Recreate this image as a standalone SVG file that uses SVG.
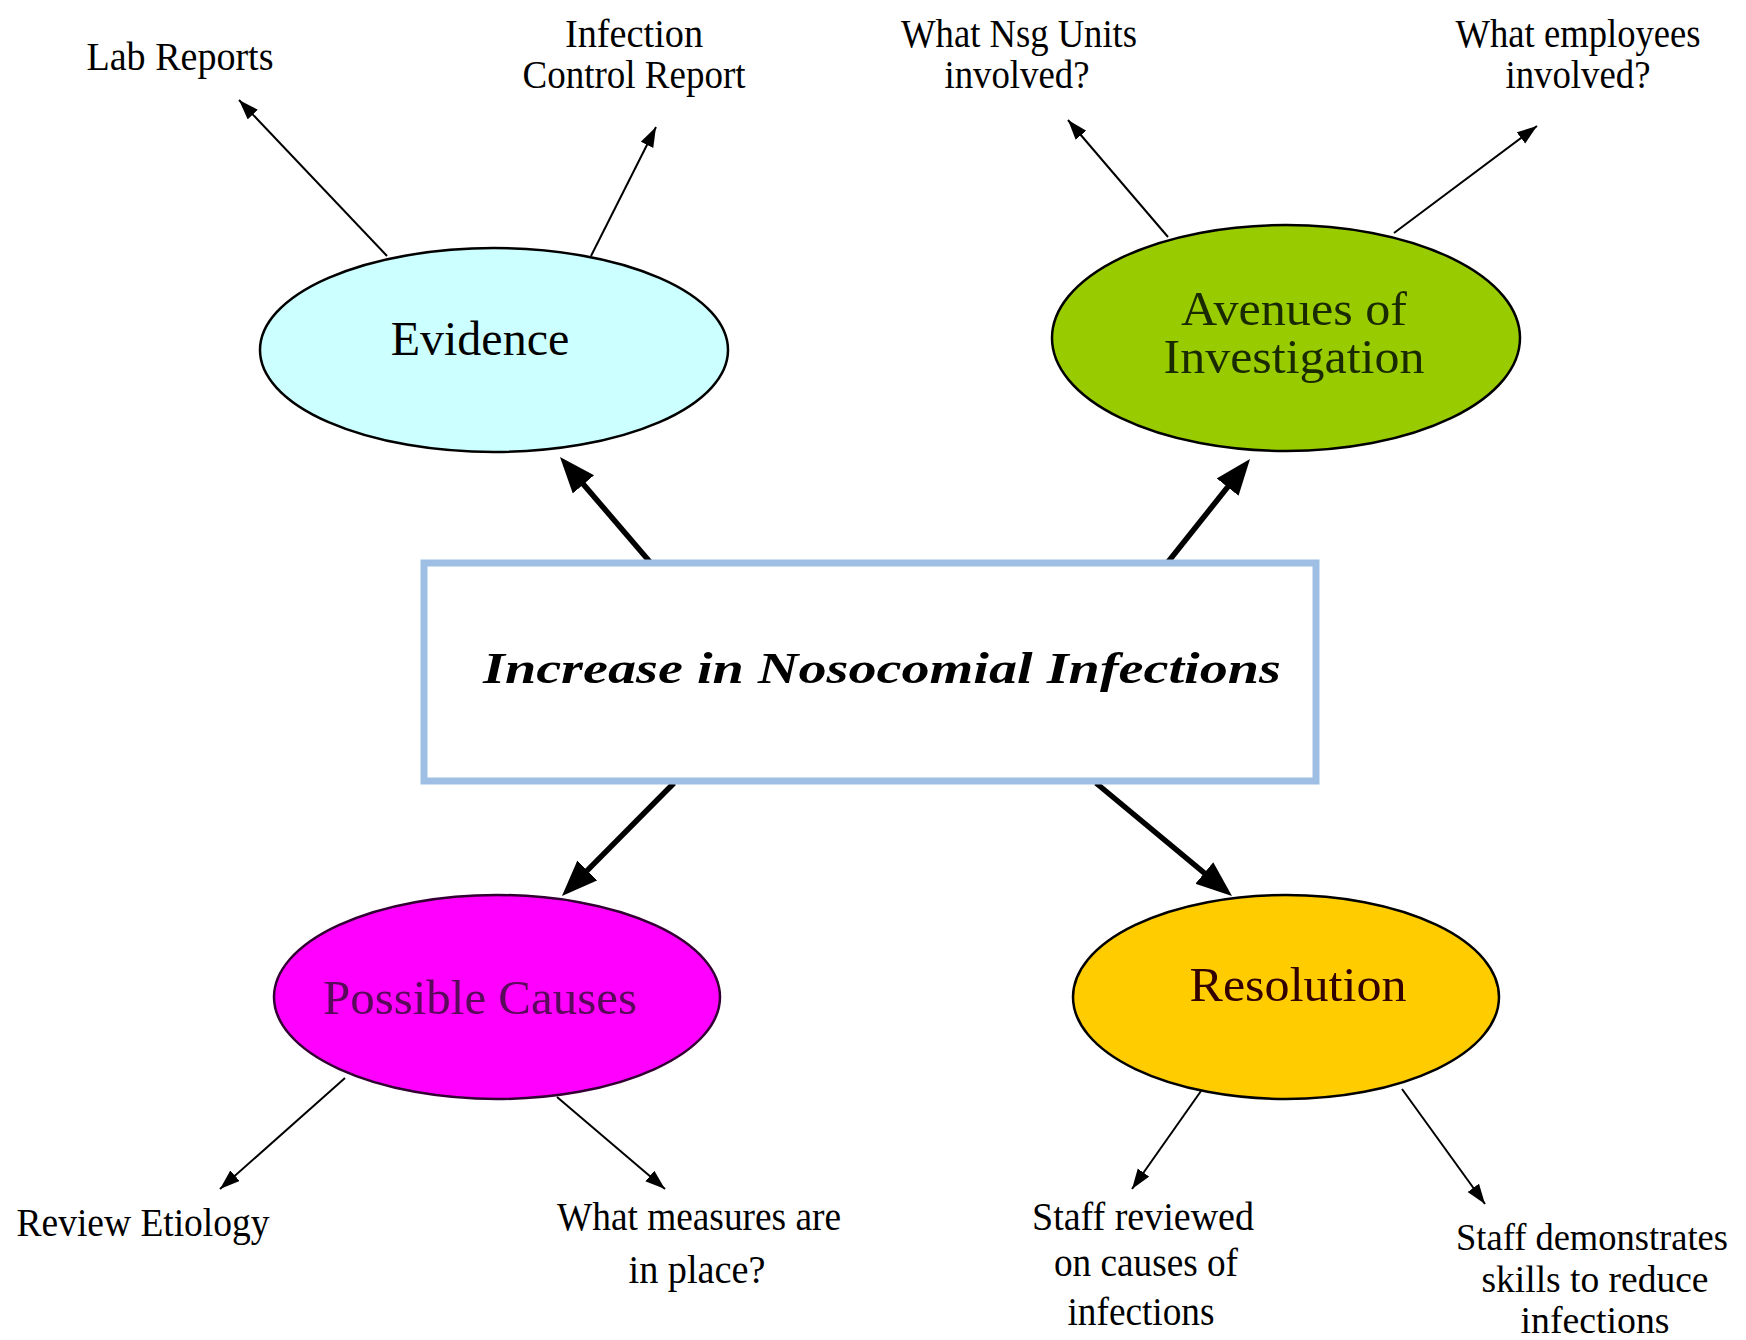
<svg xmlns="http://www.w3.org/2000/svg" width="1746" height="1340" viewBox="0 0 1746 1340">
<style>
  .node-ellipse { stroke: #000; stroke-width: 2.5; }
  .big { font-family: "Liberation Serif", "Times New Roman", serif; font-size: 48px; text-anchor: middle; }
  .small { font-family: "Liberation Serif", "Times New Roman", serif; font-size: 40px; fill: #000; text-anchor: middle; }
  .small2 { font-family: "Liberation Serif", "Times New Roman", serif; font-size: 37px; fill: #000; text-anchor: middle; }
  .title { font-family: "Liberation Serif", "Times New Roman", serif; font-size: 44px; font-weight: bold; font-style: italic; fill: #000; text-anchor: middle; }
  .thick { stroke: #000; stroke-width: 5.5; fill: none; marker-end: url(#headBig); }
  .thin { stroke: #000; stroke-width: 2; fill: none; marker-end: url(#headSmall); }
</style>
<defs>
  <marker id="headBig" markerUnits="userSpaceOnUse" markerWidth="40" markerHeight="30" refX="26" refY="14" orient="auto">
    <path d="M0,0 L36,14 L0,28 z" fill="#000"/>
  </marker>
  <marker id="headSmall" markerUnits="userSpaceOnUse" markerWidth="22" markerHeight="16" refX="20" refY="7" orient="auto">
    <path d="M0,0 L20,7 L0,14 z" fill="#000"/>
  </marker>
</defs>
<rect x="0" y="0" width="1746" height="1340" fill="#fff"/>

<g id="connectors">
  <line class="thick" x1="650" y1="562" x2="566.5" y2="464.6"/>
  <line class="thick" x1="1168" y1="562" x2="1243.8" y2="466.8"/>
  <line class="thick" x1="674" y1="783" x2="569" y2="888.9"/>
  <line class="thick" x1="1096" y1="783" x2="1224.3" y2="889.6"/>

  <line class="thin" x1="387" y1="256" x2="239" y2="100"/>
  <line class="thin" x1="591" y1="256" x2="656" y2="127"/>
  <line class="thin" x1="1168" y1="237" x2="1068" y2="120"/>
  <line class="thin" x1="1394" y1="233" x2="1537" y2="126"/>
  <line class="thin" x1="345" y1="1078" x2="220" y2="1189"/>
  <line class="thin" x1="557" y1="1097" x2="665" y2="1189"/>
  <line class="thin" x1="1201" y1="1091" x2="1132" y2="1189"/>
  <line class="thin" x1="1402" y1="1089" x2="1485" y2="1204"/>
</g>

<g id="node-center">
  <rect x="424" y="563" width="892" height="218" fill="#fff" stroke="#9EBFE3" stroke-width="7"/>
  <text class="title" x="882" y="683" textLength="798" lengthAdjust="spacingAndGlyphs">Increase in Nosocomial Infections</text>
</g>

<g id="node-evidence">
  <ellipse class="node-ellipse" cx="494" cy="350" rx="234" ry="102" fill="#CCFFFF"/>
  <text class="big" x="480" y="355" fill="#000">Evidence</text>
</g>

<g id="node-avenues">
  <ellipse class="node-ellipse" cx="1286" cy="338" rx="234" ry="113" fill="#99CC00"/>
  <text class="big" x="1294" y="325" fill="#1a2a00" textLength="226" lengthAdjust="spacingAndGlyphs">Avenues of</text>
  <text class="big" x="1294" y="373" fill="#1a2a00" textLength="261" lengthAdjust="spacingAndGlyphs">Investigation</text>
</g>

<g id="node-causes">
  <ellipse cx="497" cy="997" rx="223" ry="102" fill="#FF00FF" stroke="#330033" stroke-width="2.5"/>
  <text class="big" x="480" y="1014" fill="#5a0a5a" textLength="314" lengthAdjust="spacingAndGlyphs">Possible Causes</text>
</g>

<g id="node-resolution">
  <ellipse class="node-ellipse" cx="1286" cy="997" rx="213" ry="102" fill="#FFCC00"/>
  <text class="big" x="1298" y="1001" fill="#330000" textLength="217" lengthAdjust="spacingAndGlyphs">Resolution</text>
</g>

<g id="node-lab-reports">
  <text class="small" x="180" y="70" textLength="187" lengthAdjust="spacingAndGlyphs">Lab Reports</text>
</g>

<g id="node-infection-control">
  <text class="small" x="634" y="47" textLength="138" lengthAdjust="spacingAndGlyphs">Infection</text>
  <text class="small" x="634" y="88" textLength="223" lengthAdjust="spacingAndGlyphs">Control Report</text>
</g>

<g id="node-nsg-units">
  <text class="small" x="1019" y="47" textLength="236" lengthAdjust="spacingAndGlyphs">What Nsg Units</text>
  <text class="small" x="1017" y="88" textLength="145" lengthAdjust="spacingAndGlyphs">involved?</text>
</g>

<g id="node-employees">
  <text class="small" x="1578" y="47" textLength="245" lengthAdjust="spacingAndGlyphs">What employees</text>
  <text class="small" x="1578" y="88" textLength="145" lengthAdjust="spacingAndGlyphs">involved?</text>
</g>

<g id="node-etiology">
  <text class="small" x="143" y="1236" textLength="253" lengthAdjust="spacingAndGlyphs">Review Etiology</text>
</g>

<g id="node-measures">
  <text class="small" x="699" y="1230" textLength="284" lengthAdjust="spacingAndGlyphs">What measures are</text>
  <text class="small" x="697" y="1283" textLength="137" lengthAdjust="spacingAndGlyphs">in place?</text>
</g>

<g id="node-staff-reviewed">
  <text class="small" x="1143" y="1230" textLength="222" lengthAdjust="spacingAndGlyphs">Staff reviewed</text>
  <text class="small" x="1146" y="1276" textLength="184" lengthAdjust="spacingAndGlyphs">on causes of</text>
  <text class="small" x="1141" y="1325" textLength="147" lengthAdjust="spacingAndGlyphs">infections</text>
</g>

<g id="node-staff-demonstrates">
  <text class="small2" x="1592" y="1250" textLength="272" lengthAdjust="spacingAndGlyphs">Staff demonstrates</text>
  <text class="small2" x="1595" y="1292" textLength="227" lengthAdjust="spacingAndGlyphs">skills to reduce</text>
  <text class="small2" x="1595" y="1333" textLength="149" lengthAdjust="spacingAndGlyphs">infections</text>
</g>
</svg>
